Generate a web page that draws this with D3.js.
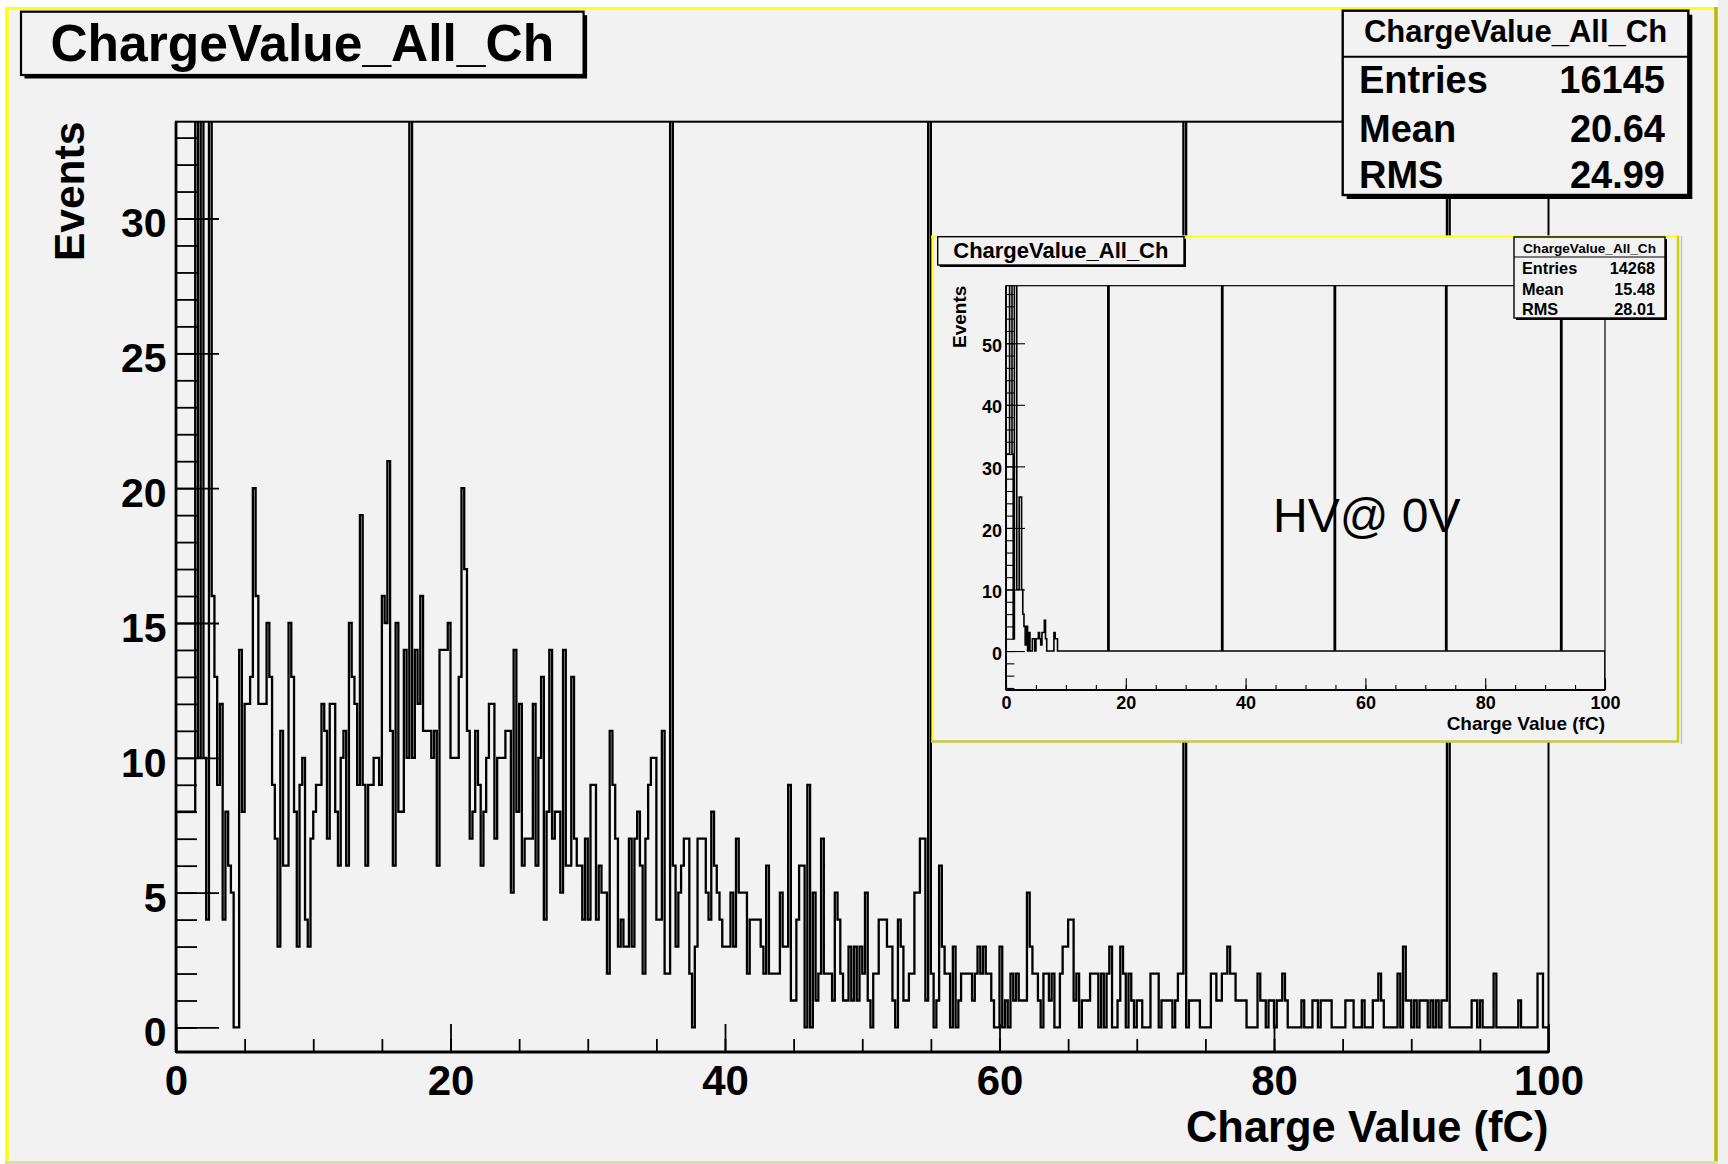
<!DOCTYPE html>
<html>
<head>
<meta charset="utf-8">
<script src="https://cdn.jsdelivr.net/npm/d3@7"></script>
<style>
body { margin: 0; background: #ffffff; }
svg text { font-family: "Liberation Sans", Arial, Helvetica, sans-serif; font-weight: bold; fill: #000; }
</style>
</head>
<body>
<div id="chart"></div>
<script>
// ---- data ----
const histTitle = "ChargeValue_All_Ch";
const xTitle = "Charge Value (fC)";
const yTitle = "Events";
const annotation = "HV@ 0V";

const xMin = 0, xMax = 100, binWidth = 0.2;   // 500 bins

// main histogram, 500 bins of 0.2 fC (tall spikes run far off the top of the frame)
const mainCounts = [
    8,8,8,8,8,8,8,2500,10,3600,10,4,2100,16,13,9,12,4,8,6,
    5,0,0,14,8,12,12,13,20,16,12,12,12,15,13,9,7,3,11,6,
    6,15,13,8,3,9,10,4,3,7,8,9,9,12,11,7,12,12,8,6,
    10,11,6,15,13,12,9,19,9,6,9,9,10,10,9,16,15,21,11,6,
    15,8,8,14,10,820,10,14,12,16,11,11,11,10,11,6,14,14,14,15,
    10,10,10,13,20,17,11,7,8,11,9,6,8,10,12,12,7,10,10,10,
    11,11,5,14,8,12,6,7,7,7,12,6,10,13,4,8,14,7,8,8,
    5,14,6,6,13,7,6,6,4,7,4,9,9,4,6,5,5,2,11,9,
    7,3,4,3,3,7,3,7,8,6,2,7,9,10,10,4,4,11,2,2,
    840,6,3,5,6,7,7,2,0,3,7,7,7,5,4,8,6,5,4,3,
    3,3,5,3,7,5,5,5,2,4,4,4,4,3,2,6,2,2,2,2,
    5,3,3,9,1,1,4,6,6,0,9,0,5,1,2,7,2,2,2,1,
    5,4,2,1,1,3,1,3,1,3,2,5,1,0,2,2,4,4,4,3,
    3,1,0,4,3,1,1,2,2,5,5,7,7,1,860,2,0,1,6,3,
    2,2,0,3,0,1,2,2,2,2,1,2,3,2,3,2,2,1,0,0,
    3,0,1,0,2,1,2,1,1,1,5,3,2,2,1,0,2,2,1,2,
    0,0,2,3,3,4,4,1,2,0,1,1,1,2,2,2,0,2,0,2,
    3,0,0,1,3,2,0,2,1,0,1,1,0,0,0,2,2,2,0,1,
    1,1,1,0,1,2,2,880,0,1,1,1,1,0,0,0,0,2,2,1,
    1,2,2,3,2,2,1,1,1,1,0,0,0,0,2,1,1,0,1,1,
    0,1,1,2,1,0,0,0,0,0,1,0,0,0,1,1,0,1,1,1,
    1,0,0,0,0,0,1,1,1,0,0,0,1,0,0,0,1,1,2,1,
    0,0,0,0,0,2,0,3,1,1,0,1,0,1,1,1,0,1,0,1,
    0,1,1,890,0,0,0,0,0,0,0,0,1,1,0,1,0,0,0,0,
    2,0,0,0,0,0,0,0,0,1,0,0,0,0,0,0,2,2,0,0
];

// inset (HV @ 0V): first 43 bins, then isolated spikes [bin, count]; all other bins empty
const insetLowBins = [32,32,32,500,500,32,2,900,700,10,10,25,25,10,6,4,1,4,0,3,
                      0,0,2,2,0,2,2,3,2,1,3,3,5,2,0,0,0,0,0,0,3,2,2];
const insetSpikes = [[85, 700], [180, 720], [274, 700], [367, 690], [463, 700]];

const mainStats = [["Entries", "16145"], ["Mean", "20.64"], ["RMS", "24.99"]];
const insetStats = [["Entries", "14268"], ["Mean", "15.48"], ["RMS", "28.01"]];

const xMajorTicks = [0, 20, 40, 60, 80, 100];
const mainYMajor = [0, 5, 10, 15, 20, 25, 30];
const insetYMajor = [0, 10, 20, 30, 40, 50];

// ---- drawing ----
const svg = d3.select("#chart").append("svg")
    .attr("width", 1728)
    .attr("height", 1164);

// canvas
svg.append("rect").attr("x", 1718).attr("y", 0).attr("width", 10).attr("height", 1164).attr("fill", "#f0f0f0");
svg.append("rect").attr("x", 5).attr("y", 7).attr("width", 1713).attr("height", 1157).attr("fill", "#f2f2f2");
svg.append("line").attr("x1", 5).attr("x2", 1718).attr("y1", 8.5).attr("y2", 8.5).attr("stroke", "#ffff10").attr("stroke-width", 3);
svg.append("line").attr("x1", 7).attr("x2", 7).attr("y1", 7).attr("y2", 1164).attr("stroke", "#ffff10").attr("stroke-width", 3.5);
svg.append("line").attr("x1", 1716).attr("x2", 1716).attr("y1", 7).attr("y2", 1164).attr("stroke", "#b8b800").attr("stroke-width", 3.5);
svg.append("line").attr("x1", 5).attr("x2", 1718).attr("y1", 1162.5).attr("y2", 1162.5).attr("stroke", "#dcdcb0").attr("stroke-width", 3);

function drawPad(p) {
    let g = svg.append("g");

    let x = d3.scaleLinear().domain([xMin, xMax]).range([p.x0, p.x1]);
    let y = d3.scaleLinear().domain(p.yDomain).range([p.y1, p.y0]);

    let clipId = "clip-" + p.id;
    g.append("clipPath").attr("id", clipId)
        .append("rect")
        .attr("x", p.x0).attr("y", p.y0)
        .attr("width", p.x1 - p.x0).attr("height", p.y1 - p.y0);

    // step outline of the histogram
    let ymin = p.yDomain[0];
    let n = p.counts.length;
    let pts = [[xMin, ymin]];
    p.counts.forEach((c, i) => pts.push([xMin + i * binWidth, c]));
    pts.push([xMin + n * binWidth, p.counts[n - 1]]);
    pts.push([xMin + n * binWidth, ymin]);

    let line = d3.line()
        .x(d => x(d[0]))
        .y(d => y(d[1]))
        .curve(d3.curveStepAfter);

    g.append("path")
        .datum(pts)
        .attr("clip-path", `url(#${clipId})`)
        .attr("d", line)
        .attr("fill", "none")
        .attr("stroke", "#000")
        .attr("stroke-width", p.histWidth)
        .attr("stroke-linejoin", "miter");

    // frame
    g.append("rect")
        .attr("x", p.x0).attr("y", p.y0)
        .attr("width", p.x1 - p.x0).attr("height", p.y1 - p.y0)
        .attr("fill", "none").attr("stroke", "#000").attr("stroke-width", p.frameWidth);
    g.append("line").attr("x1", p.x0).attr("x2", p.x1).attr("y1", p.y1).attr("y2", p.y1)
        .attr("stroke", "#000").attr("stroke-width", p.axisWidth);
    g.append("line").attr("x1", p.x0).attr("x2", p.x0).attr("y1", p.y0).attr("y2", p.y1)
        .attr("stroke", "#000").attr("stroke-width", p.axisWidth);

    // y axis: minor then major, ticks pointing into the frame
    let yMinorAxis = g.append("g")
        .attr("transform", `translate(${p.x0},0)`)
        .call(d3.axisLeft(y).tickValues(p.yMinor).tickSize(-p.yMinorLen).tickFormat(""));
    let yMajorAxis = g.append("g")
        .attr("transform", `translate(${p.x0},0)`)
        .call(d3.axisLeft(y).tickValues(p.yMajor).tickSize(-p.yMajorLen)
            .tickPadding(p.yPad).tickFormat(d3.format("d")));

    // x axis
    let xMinorAxis = g.append("g")
        .attr("transform", `translate(0,${p.y1})`)
        .call(d3.axisBottom(x).tickValues(d3.range(0, 101, 5)).tickSize(-p.xMinorLen).tickFormat(""));
    let xMajorAxis = g.append("g")
        .attr("transform", `translate(0,${p.y1})`)
        .call(d3.axisBottom(x).tickValues(xMajorTicks).tickSize(-p.xMajorLen)
            .tickPadding(p.xPad).tickFormat(d3.format("d")));

    [yMinorAxis, yMajorAxis, xMinorAxis, xMajorAxis].forEach(a => {
        a.attr("font-family", null).attr("font-size", null);
        a.select(".domain").remove();
        a.selectAll("line").attr("stroke-width", p.tickWidth);
    });
    yMajorAxis.selectAll("text").attr("font-size", p.yLabelSize).attr("dy", "0.45em");
    xMajorAxis.selectAll("text").attr("font-size", p.xLabelSize);

    // axis titles
    g.append("text")
        .attr("x", p.x1).attr("y", p.xTitleY)
        .attr("text-anchor", "end")
        .attr("font-size", p.xTitleSize)
        .text(xTitle);
    g.append("text")
        .attr("transform", `translate(${p.yTitleX},${p.y0}) rotate(-90)`)
        .attr("text-anchor", "end")
        .attr("font-size", p.yTitleSize)
        .text(yTitle);

    return g;
}

function drawTitleBox(b) {
    svg.append("rect")
        .attr("x", b.x + b.shadow).attr("y", b.y + b.shadow)
        .attr("width", b.w).attr("height", b.h).attr("fill", "#000");
    svg.append("rect")
        .attr("x", b.x).attr("y", b.y).attr("width", b.w).attr("height", b.h)
        .attr("fill", "#f2f2f2").attr("stroke", "#000").attr("stroke-width", b.stroke);
    svg.append("text")
        .attr("x", b.x + b.w / 2).attr("y", b.baseline)
        .attr("text-anchor", "middle")
        .attr("font-size", b.size)
        .text(histTitle);
}

function drawStatsBox(b, rows) {
    svg.append("rect")
        .attr("x", b.x + b.shadow).attr("y", b.y + b.shadow)
        .attr("width", b.w).attr("height", b.h).attr("fill", "#000");
    svg.append("rect")
        .attr("x", b.x).attr("y", b.y).attr("width", b.w).attr("height", b.h)
        .attr("fill", "#f2f2f2").attr("stroke", "#000").attr("stroke-width", b.stroke);
    svg.append("line")
        .attr("x1", b.x).attr("x2", b.x + b.w).attr("y1", b.sep).attr("y2", b.sep)
        .attr("stroke", "#000").attr("stroke-width", b.stroke * 0.8);
    svg.append("text")
        .attr("x", b.x + b.w / 2).attr("y", b.titleBase)
        .attr("text-anchor", "middle")
        .attr("font-size", b.titleSize)
        .text(histTitle);
    let rowG = svg.append("g").selectAll("g").data(rows).join("g");
    rowG.append("text")
        .attr("x", b.left).attr("y", (d, i) => b.rowBase[i])
        .attr("font-size", b.rowSize)
        .text(d => d[0]);
    rowG.append("text")
        .attr("x", b.right).attr("y", (d, i) => b.rowBase[i])
        .attr("text-anchor", "end")
        .attr("font-size", b.rowSize)
        .text(d => d[1]);
}

// main pad
drawPad({
    id: "main",
    x0: 176, x1: 1548.5, y0: 121.7, y1: 1052,
    yDomain: [-0.91, 33.59],
    counts: mainCounts,
    histWidth: 2.3, frameWidth: 2, axisWidth: 2.8, tickWidth: 1.8,
    yMajor: mainYMajor, yMinor: d3.range(0, 34, 1),
    yMajorLen: 43, yMinorLen: 21, yPad: 9.5, yLabelSize: 41,
    xMajorLen: 28, xMinorLen: 13, xPad: 13, xLabelSize: 42,
    xTitleY: 1141.5, xTitleSize: 43.5,
    yTitleX: 84, yTitleSize: 42.5
});

drawTitleBox({x: 21, y: 11.7, w: 562.6, h: 63.3, shadow: 3.5, stroke: 2.2, baseline: 61, size: 51.5});

drawStatsBox({
    x: 1342.7, y: 10.7, w: 345.6, h: 184.3, shadow: 4, stroke: 2.4,
    sep: 56.7, titleBase: 41.7, titleSize: 31,
    left: 1359, right: 1665, rowBase: [93.3, 141.7, 188.3], rowSize: 38
}, mainStats);

// inset pad
const insetCounts = new Array(500).fill(0);
insetLowBins.forEach((c, i) => { insetCounts[i] = c; });
insetSpikes.forEach(d => { insetCounts[d[0]] = d[1]; });

svg.append("rect").attr("x", 931.7).attr("y", 235.7).attr("width", 746.3).attr("height", 505.3).attr("fill", "#f2f2f2");
svg.append("line").attr("x1", 931).attr("x2", 1679).attr("y1", 236.5).attr("y2", 236.5).attr("stroke", "#ffff10").attr("stroke-width", 2);
svg.append("line").attr("x1", 932.7).attr("x2", 932.7).attr("y1", 235.7).attr("y2", 742).attr("stroke", "#ffff10").attr("stroke-width", 2.5);
svg.append("line").attr("x1", 1678).attr("x2", 1678).attr("y1", 235.7).attr("y2", 742).attr("stroke", "#d0d000").attr("stroke-width", 2.5);
svg.append("line").attr("x1", 931).attr("x2", 1679).attr("y1", 741.5).attr("y2", 741.5).attr("stroke", "#c8c840").attr("stroke-width", 2.5);
svg.append("line").attr("x1", 1681.5).attr("x2", 1681.5).attr("y1", 236).attr("y2", 744).attr("stroke", "#c4c4c4").attr("stroke-width", 1.5);

drawPad({
    id: "inset",
    x0: 1006, x1: 1605, y0: 285.7, y1: 690,
    yDomain: [-6.33, 59.35],
    counts: insetCounts,
    histWidth: 1.6, frameWidth: 1.2, axisWidth: 1.8, tickWidth: 1.1,
    yMajor: insetYMajor, yMinor: d3.range(-6, 59, 2),
    yMajorLen: 19, yMinorLen: 8.3, yPad: 4, yLabelSize: 18,
    xMajorLen: 11.7, xMinorLen: 5, xPad: 6, xLabelSize: 18,
    xTitleY: 729.5, xTitleSize: 19,
    yTitleX: 966, yTitleSize: 19
});

drawTitleBox({x: 937.7, y: 236.7, w: 246.3, h: 28.3, shadow: 2, stroke: 1.4, baseline: 258.3, size: 22});

drawStatsBox({
    x: 1514, y: 237, w: 151, h: 81, shadow: 2, stroke: 1.4,
    sep: 257, titleBase: 253, titleSize: 13.6,
    left: 1522, right: 1655, rowBase: [274, 294.7, 315], rowSize: 16.3
}, insetStats);

svg.append("text")
    .attr("x", 1273).attr("y", 532)
    .attr("font-size", 48)
    .style("font-weight", "normal")
    .text(annotation);
</script>
</body>
</html>
